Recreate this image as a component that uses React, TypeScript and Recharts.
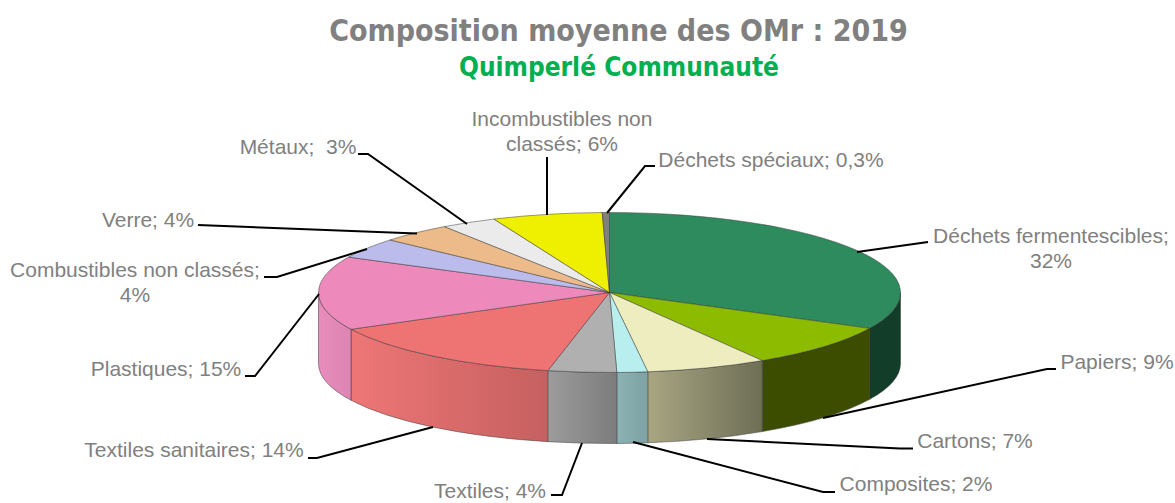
import { Pie, PieChart } from "recharts";

const categories = [
  "Déchets fermentescibles",
  "Papiers",
  "Cartons",
  "Composites",
  "Textiles",
  "Textiles sanitaires",
  "Plastiques",
  "Combustibles non classés",
  "Verre",
  "Métaux",
  "Incombustibles non classés",
  "Déchets spéciaux",
];
const shares = [32.4, 8.8, 6.7, 1.7, 3.8, 14, 14.9, 4.1, 4, 3.1, 6.1, 0.4];

const topColors = [
  "#2E8B5E", "#8CBB00", "#EEEDC0", "#B9EEEE", "#B0B0B0", "#EE7474",
  "#EE8ABB", "#BCBCEC", "#EDBB8A", "#EBEBEB", "#EFEF00", "#808080",
];
const sideLeft = [
  "#123D29", "#3D4D00", "#A8A682", "#8BB2B4", "#9C9C9C", "#EE7676",
  "#E88CBC", "#BCBCEC", "#EDBB8A", "#EBEBEB", "#EFEF00", "#808080",
];
const sideRight = [
  "#123D29", "#3D4D00", "#6E6E56", "#7FA2A4", "#7C7C7C", "#C66060",
  "#DC84B2", "#BCBCEC", "#EDBB8A", "#EBEBEB", "#EFEF00", "#808080",
];

// label lines and where they sit, one entry per category
const labelLines = [
  ["Déchets fermentescibles;", "32%"],
  ["Papiers; 9%"],
  ["Cartons; 7%"],
  ["Composites; 2%"],
  ["Textiles; 4%"],
  ["Textiles sanitaires; 14%"],
  ["Plastiques; 15%"],
  ["Combustibles non classés;", "4%"],
  ["Verre; 4%"],
  ["Métaux;  3%"],
  ["Incombustibles non", "classés; 6%"],
  ["Déchets spéciaux; 0,3%"],
];
const labelX = [1051, 1117, 975, 916, 490, 194, 166, 135, 148, 298, 562, 771];
const labelY = [235, 361, 440, 483, 490.5, 449, 368, 269, 219, 146, 118, 159];
const leaders = [
  "857,252 928,242",
  "823,418 1047,369 1056,369",
  "707,439 900,448.5 913,448.5",
  "633,442 823,492 835,492",
  "582,443 562,495 551,495",
  "433,427 317,458 308,458",
  "319,294 255,376 245,376",
  "367,249 277,277 264,277",
  "198,225 417,233.5",
  "358,154 368,154 467,224",
  "547,157 547,215",
  "655,166 645,166 607,213",
];

const tableData = categories.map((name, i) => ({
  name,
  value: shares[i],
  fill: topColors[i],
}));

const CX = 609.5;
const CY = 292.5;
const RX = 291;
const RY = 80;
const DEPTH = 71;

const rad = (a: number) => (a * Math.PI) / 180;
const px = (a: number) => CX + RX * Math.cos(rad(a));
const py = (a: number, dy = 0) => CY - RY * Math.sin(rad(a)) + dy;

function Slice3D(props: any) {
  const { startAngle: s, endAngle: e, fill, name } = props;
  const i = categories.indexOf(name);
  const large = s - e > 180 ? 1 : 0;
  const top = `M${CX},${CY} L${px(s)},${py(s)} A${RX},${RY} 0 ${large} 1 ${px(e)},${py(e)} Z`;

  // only the part of the rim facing the viewer has a side wall
  const a0 = Math.min(s, 0);
  const a1 = Math.max(e, -180);
  let side = null;
  if (a0 > a1) {
    const d =
      `M${px(a0)},${py(a0)} A${RX},${RY} 0 0 1 ${px(a1)},${py(a1)} ` +
      `L${px(a1)},${py(a1, DEPTH)} A${RX},${RY} 0 0 0 ${px(a0)},${py(a0, DEPTH)} Z`;
    side = <path d={d} fill={`url(#side-${i})`} stroke="#333" strokeOpacity={0.6} strokeWidth={0.8} />;
  }
  return (
    <g>
      {side}
      <path d={top} fill={fill} stroke="#333" strokeOpacity={0.6} strokeWidth={0.8} />
    </g>
  );
}

function SliceLabel(props: any) {
  const i = categories.indexOf(props.name);
  return (
    <g>
      <polyline points={leaders[i]} fill="none" stroke="#000" strokeWidth={2} />
      {labelLines[i].map((line, k) => (
        <text
          key={k}
          x={labelX[i]}
          y={labelY[i] + k * 25}
          textAnchor="middle"
          dominantBaseline="central"
          fontFamily="'Liberation Sans', Arial, sans-serif"
          fontSize={21}
          fill="#808080"
          xmlSpace="preserve"
        >
          {line}
        </text>
      ))}
    </g>
  );
}

export default function App() {
  return (
    <div style={{ width: 1175, height: 503, overflow: "hidden", background: "#fff" }}>
      <style>{"body{margin:0}"}</style>
      <PieChart width={1175} height={503} margin={{ top: 0, right: 0, bottom: 0, left: 0 }}>
        <defs>
          {categories.map((c, i) => (
            <linearGradient key={c} id={`side-${i}`} x1="0" y1="0" x2="1" y2="0">
              <stop offset="0" stopColor={sideLeft[i]} />
              <stop offset="1" stopColor={sideRight[i]} />
            </linearGradient>
          ))}
        </defs>
        <text
          x={618.5}
          y={30}
          textAnchor="middle"
          dominantBaseline="central"
          fontFamily="'DejaVu Sans Condensed', 'DejaVu Sans', sans-serif"
          fontStretch="condensed"
          fontWeight="bold"
          fontSize={30}
          fill="#808080"
        >
          Composition moyenne des OMr : 2019
        </text>
        <text
          x={619}
          y={67}
          textAnchor="middle"
          dominantBaseline="central"
          fontFamily="'DejaVu Sans Condensed', 'DejaVu Sans', sans-serif"
          fontStretch="condensed"
          fontWeight="bold"
          fontSize={26}
          fill="#00B050"
        >
          Quimperlé Communauté
        </text>
        <Pie
          data={tableData}
          dataKey="value"
          nameKey="name"
          cx={CX}
          cy={CY}
          innerRadius={0}
          outerRadius={RX}
          startAngle={90}
          endAngle={-270}
          shape={Slice3D}
          label={SliceLabel}
          labelLine={false}
          isAnimationActive={false}
        />
      </PieChart>
    </div>
  );
}
